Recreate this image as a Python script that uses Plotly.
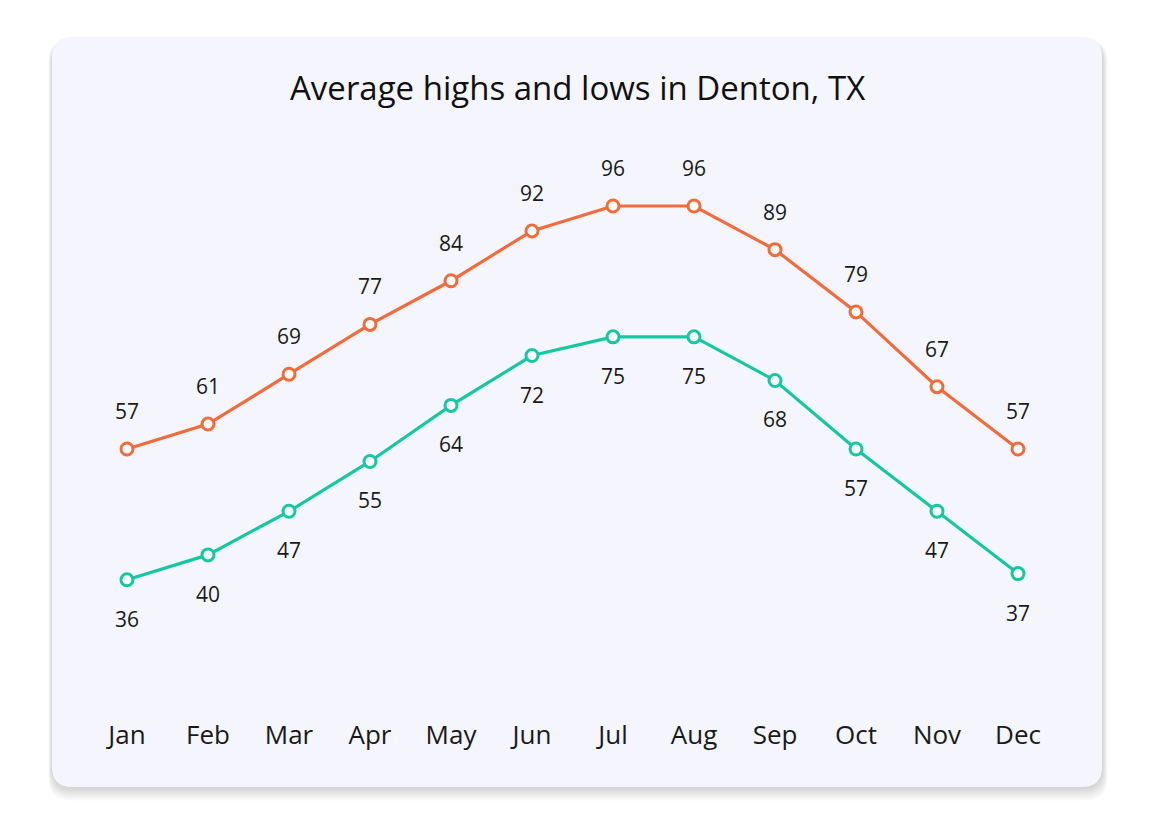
import plotly.graph_objects as go

months = ["Jan", "Feb", "Mar", "Apr", "May", "Jun", "Jul", "Aug", "Sep", "Oct", "Nov", "Dec"]
highs = [57, 61, 69, 77, 84, 92, 96, 96, 89, 79, 67, 57]
lows = [36, 40, 47, 55, 64, 72, 75, 75, 68, 57, 47, 37]
title = "Average highs and lows in Denton, TX"

W, H = 1155, 825
OFF = 8  # page body margin
ORANGE = "#F36B3B"
TEAL = "#14C9A1"
FONT = "'Open Sans', 'Noto Sans', sans-serif"


def px_x(p):
    return (p - OFF) / W


def px_y(p):
    return 1 - (p - OFF) / H


def rrect(x0, y0, x1, y1, r):
    pts = [
        f"M {px_x(x0 + r)},{px_y(y0)}",
        f"L {px_x(x1 - r)},{px_y(y0)}",
        f"Q {px_x(x1)},{px_y(y0)} {px_x(x1)},{px_y(y0 + r)}",
        f"L {px_x(x1)},{px_y(y1 - r)}",
        f"Q {px_x(x1)},{px_y(y1)} {px_x(x1 - r)},{px_y(y1)}",
        f"L {px_x(x0 + r)},{px_y(y1)}",
        f"Q {px_x(x0)},{px_y(y1)} {px_x(x0)},{px_y(y1 - r)}",
        f"L {px_x(x0)},{px_y(y0 + r)}",
        f"Q {px_x(x0)},{px_y(y0)} {px_x(x0 + r)},{px_y(y0)}",
        "Z",
    ]
    return " ".join(pts)


shapes = []
# soft shadow layers
for i in range(7):
    g = 7 - i
    shapes.append(dict(type="path", xref="paper", yref="paper", layer="below",
                       path=rrect(52 - g * 0.5, 37 + 3, 1102 + g * 0.8, 787 + g * 1.9, 22),
                       fillcolor="rgba(60,60,70,0.032)", line=dict(width=0)))
shapes.append(dict(type="path", xref="paper", yref="paper", layer="below",
                   path=rrect(52, 37, 1102, 787, 20),
                   fillcolor="#F5F6FD", line=dict(width=0)))

fig = go.Figure()
fig.add_trace(go.Scatter(x=months, y=highs, mode="lines+markers",
                         line=dict(color=ORANGE, width=3.2),
                         marker=dict(size=12, color="white", line=dict(color=ORANGE, width=3)),
                         hoverinfo="skip", showlegend=False))
fig.add_trace(go.Scatter(x=months, y=lows, mode="lines+markers",
                         line=dict(color=TEAL, width=3.2),
                         marker=dict(size=12, color="white", line=dict(color=TEAL, width=3)),
                         hoverinfo="skip", showlegend=False))

annotations = []
for m, v in zip(months, highs):
    annotations.append(dict(x=m, y=v, text=str(v), showarrow=False, yshift=38,
                            font=dict(size=21, color="#1a1a1a", family=FONT)))
for m, v in zip(months, lows):
    annotations.append(dict(x=m, y=v, text=str(v), showarrow=False, yshift=-39,
                            font=dict(size=21, color="#1a1a1a", family=FONT)))
annotations.append(dict(xref="paper", yref="paper", x=px_x(577),
                        y=px_y(88), text=title,
                        showarrow=False, xanchor="center", yanchor="middle",
                        font=dict(size=33, color="#111111", family=FONT)))

fig.update_layout(
    width=W, height=H,
    margin=dict(l=0, r=0, t=0, b=0),
    paper_bgcolor="white",
    plot_bgcolor="rgba(0,0,0,0)",
    shapes=shapes,
    annotations=annotations,
    font=dict(family=FONT),
    xaxis=dict(domain=[px_x(86.5), px_x(1058.5)], range=[-0.5, 11.5], type="category",
               showgrid=False, zeroline=False, showline=False,
               ticks="outside", ticklen=32, tickcolor="rgba(0,0,0,0)",
               tickfont=dict(size=26, color="#1a1a1a", family=FONT)),
    yaxis=dict(domain=[px_y(679.5), px_y(118.8)], range=[20, 110],
               showgrid=False, zeroline=False, showline=False, showticklabels=False),
)

fig.write_html("out.html")
